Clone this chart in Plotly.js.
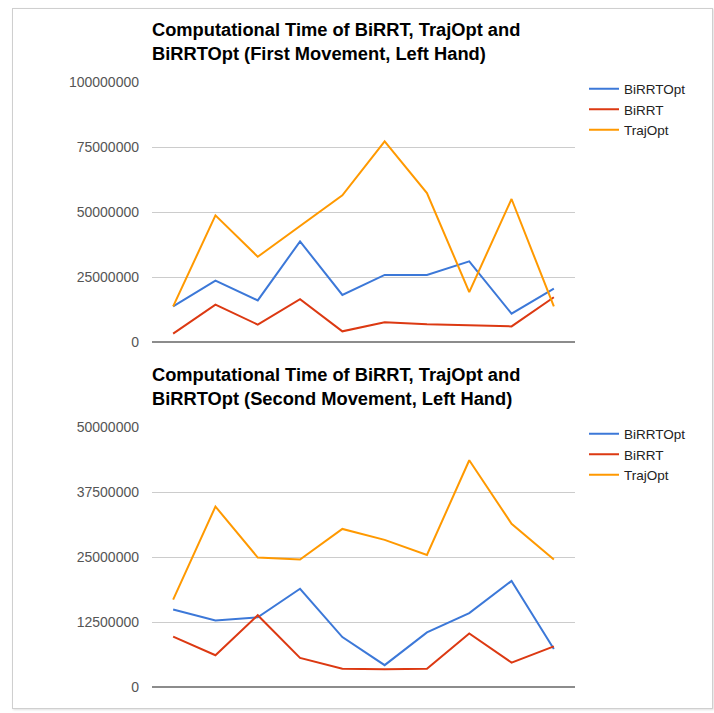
<!DOCTYPE html>
<html>
<head>
<meta charset="utf-8">
<script src="https://cdn.plot.ly/plotly-3.0.1.min.js"></script>
<style>
  html, body { margin: 0; padding: 0; background: #fff; }
  #page { position: relative; width: 714px; height: 713px; overflow: hidden; }
  #frame { position: absolute; left: 12px; top: 8px; width: 699px; height: 699px;
           border: 1px solid #cfcfcf; box-shadow: 1px 1px 2px rgba(0,0,0,0.12); }
  .chart { position: absolute; left: 0; width: 714px; height: 365px; }
  #first { top: 0; }
  #second { top: 345px; }
</style>
</head>
<body>
<div id="page">
  <div id="frame"></div>
  <div id="first" class="chart"></div>
  <div id="second" class="chart"></div>
</div>
<script>
// Trial index (one point per run, no labels shown on the x axis)
const runs = ['1', '2', '3', '4', '5', '6', '7', '8', '9', '10'];
const seriesNames = ['BiRRTOpt', 'BiRRT', 'TrajOpt'];
const seriesColors = ['#3c78d8', '#dc3912', '#ff9900'];

// First movement, left hand
const birrtOptFirst = [13700000, 23600000, 16000000, 38700000, 18100000, 25800000, 25800000, 31000000, 10900000, 20500000];
const birrtFirst    = [3200000, 14400000, 6700000, 16500000, 4100000, 7600000, 6800000, 6400000, 6000000, 17200000];
const trajOptFirst  = [13700000, 48700000, 32800000, 44500000, 56400000, 77200000, 57300000, 19200000, 55000000, 13700000];
const ticksFirst    = [0, 25000000, 50000000, 75000000, 100000000];

// Second movement, left hand
const birrtOptSecond = [14900000, 12800000, 13400000, 18900000, 9600000, 4200000, 10500000, 14200000, 20400000, 7300000];
const birrtSecond    = [9700000, 6100000, 13800000, 5600000, 3500000, 3400000, 3500000, 10300000, 4700000, 7800000];
const trajOptSecond  = [16800000, 34700000, 24900000, 24500000, 30400000, 28300000, 25400000, 43600000, 31400000, 24500000];
const ticksSecond    = [0, 12500000, 25000000, 37500000, 50000000];

const titleFirst  = 'Computational Time of BiRRT, TrajOpt and<br>BiRRTOpt (First Movement, Left Hand)';
const titleSecond = 'Computational Time of BiRRT, TrajOpt and<br>BiRRTOpt (Second Movement, Left Hand)';

const FONT = 'Arial, "Liberation Sans", sans-serif';
const H = 365;

function makeTraces(values) {
  return values.map((ys, i) => ({
    type: 'scatter',
    mode: 'lines',
    x: runs,
    y: ys,
    name: seriesNames[i],
    line: { color: seriesColors[i], width: 2 },
    hoverinfo: 'skip'
  }));
}

function makeLayout(title, ticks) {
  return {
    width: 714,
    height: H,
    margin: { l: 152, r: 139, t: 82, b: H - 342 },
    paper_bgcolor: 'rgba(0,0,0,0)',
    plot_bgcolor: 'rgba(0,0,0,0)',
    showlegend: true,
    title: {
      text: title,
      x: 152 / 714, xref: 'container', xanchor: 'left',
      y: 1 - 36 / H, yref: 'container', yanchor: 'top',
      font: { family: FONT, size: 18.3, weight: 'bold', color: '#000' }
    },
    xaxis: {
      type: 'category',
      range: [-0.5, runs.length - 0.5],
      showticklabels: false,
      showgrid: false,
      zeroline: false,
      showline: false,
      ticks: ''
    },
    yaxis: {
      range: [ticks[0], ticks[ticks.length - 1]],
      tickvals: ticks,
      tickformat: 'd',
      showgrid: true,
      gridcolor: '#cccccc',
      gridwidth: 1,
      zeroline: true,
      zerolinecolor: '#8c8c8c',
      zerolinewidth: 2,
      showline: false,
      ticks: '',
      ticklabelstandoff: 12,
      tickfont: { family: FONT, size: 14, color: '#555' }
    },
    legend: {
      x: (584 - 152) / 423, xanchor: 'left',
      y: 1.033, yanchor: 'top',
      font: { family: FONT, size: 13.5, color: '#222' },
      bgcolor: 'rgba(0,0,0,0)',
      borderwidth: 0
    }
  };
}

const config = { staticPlot: true, displayModeBar: false };

Plotly.newPlot('first',
  makeTraces([birrtOptFirst, birrtFirst, trajOptFirst]),
  makeLayout(titleFirst, ticksFirst), config);

Plotly.newPlot('second',
  makeTraces([birrtOptSecond, birrtSecond, trajOptSecond]),
  makeLayout(titleSecond, ticksSecond), config);
</script>
</body>
</html>
